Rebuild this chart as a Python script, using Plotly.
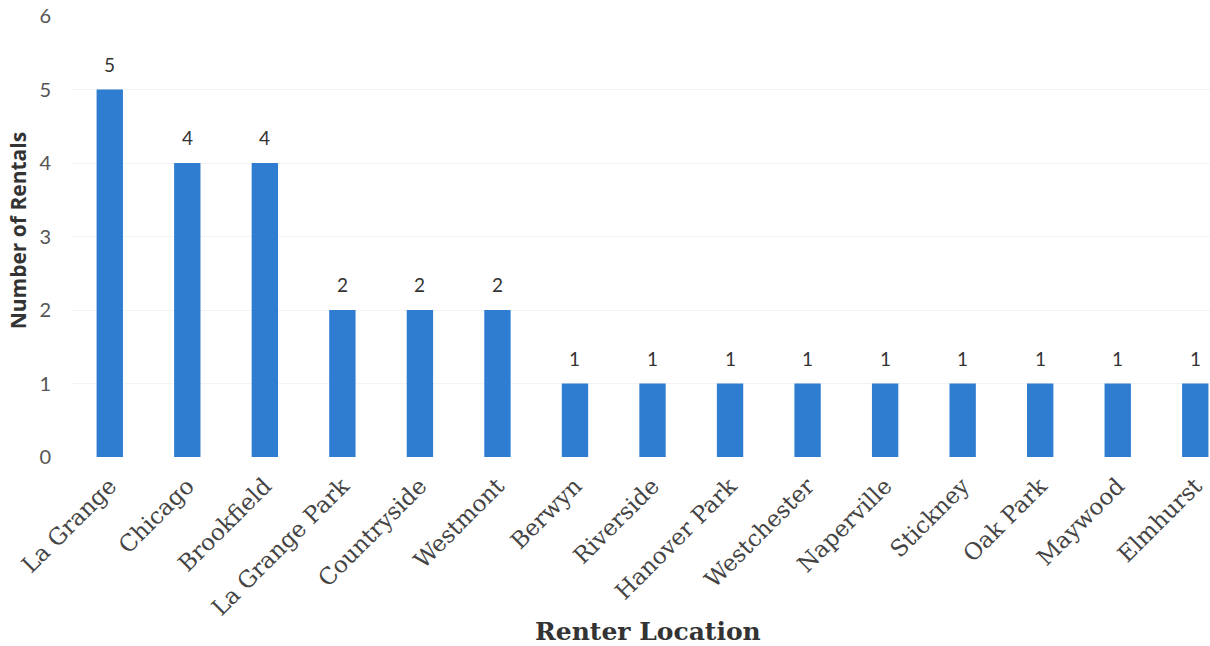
import plotly.graph_objects as go

locations = ["La Grange", "Chicago", "Brookfield", "La Grange Park", "Countryside",
             "Westmont", "Berwyn", "Riverside", "Hanover Park", "Westchester",
             "Naperville", "Stickney", "Oak Park", "Maywood", "Elmhurst"]
rentals = [5, 4, 4, 2, 2, 2, 1, 1, 1, 1, 1, 1, 1, 1, 1]
y_ticks = [0, 1, 2, 3, 4, 5, 6]

SANS = "Lato, 'Open Sans', sans-serif"
SERIF = "'DejaVu Serif', 'Liberation Serif', serif"

fig = go.Figure(go.Bar(
    x=locations,
    y=rentals,
    width=0.34,
    marker=dict(color="#2e7dd1", line=dict(width=0)),
    cliponaxis=False,
))

# value labels above each bar
for loc, v in zip(locations, rentals):
    fig.add_annotation(x=loc, y=v, text=str(v), showarrow=False,
                       yanchor="bottom", yshift=12,
                       font=dict(family=SANS, size=19, color="#333333"))

# axis titles
fig.add_annotation(xref="paper", yref="paper", x=0.507, y=-0.395,
                   text="<b>Renter Location</b>", showarrow=False,
                   xanchor="center", yanchor="middle",
                   font=dict(family=SERIF, size=25, color="#333333"))
fig.add_annotation(xref="paper", yref="paper", x=-0.047, y=0.515,
                   text="<b>Number of Rentals</b>", showarrow=False, textangle=-90,
                   xanchor="center", yanchor="middle",
                   font=dict(family="'Open Sans', Lato, sans-serif", size=21, color="#333333"))

fig.update_layout(
    width=1210, height=646,
    margin=dict(l=71, r=0, t=16, b=189),
    paper_bgcolor="white", plot_bgcolor="white",
    showlegend=False,
    xaxis=dict(
        range=[-0.5, 14.19],
        tickangle=-45,
        tickfont=dict(family=SERIF, size=23, color="#444444"),
        showgrid=False, showline=False, ticks="",
        ticklabelstandoff=10,
    ),
    yaxis=dict(
        range=[0, 6],
        tickvals=y_ticks,
        tickfont=dict(family=SANS, size=20, color="#555555"),
        showgrid=True, gridcolor="#f3f3f3", zeroline=False, showline=False,
        ticks="", ticklabelstandoff=19,
    ),
)

fig.write_html("out.html")
